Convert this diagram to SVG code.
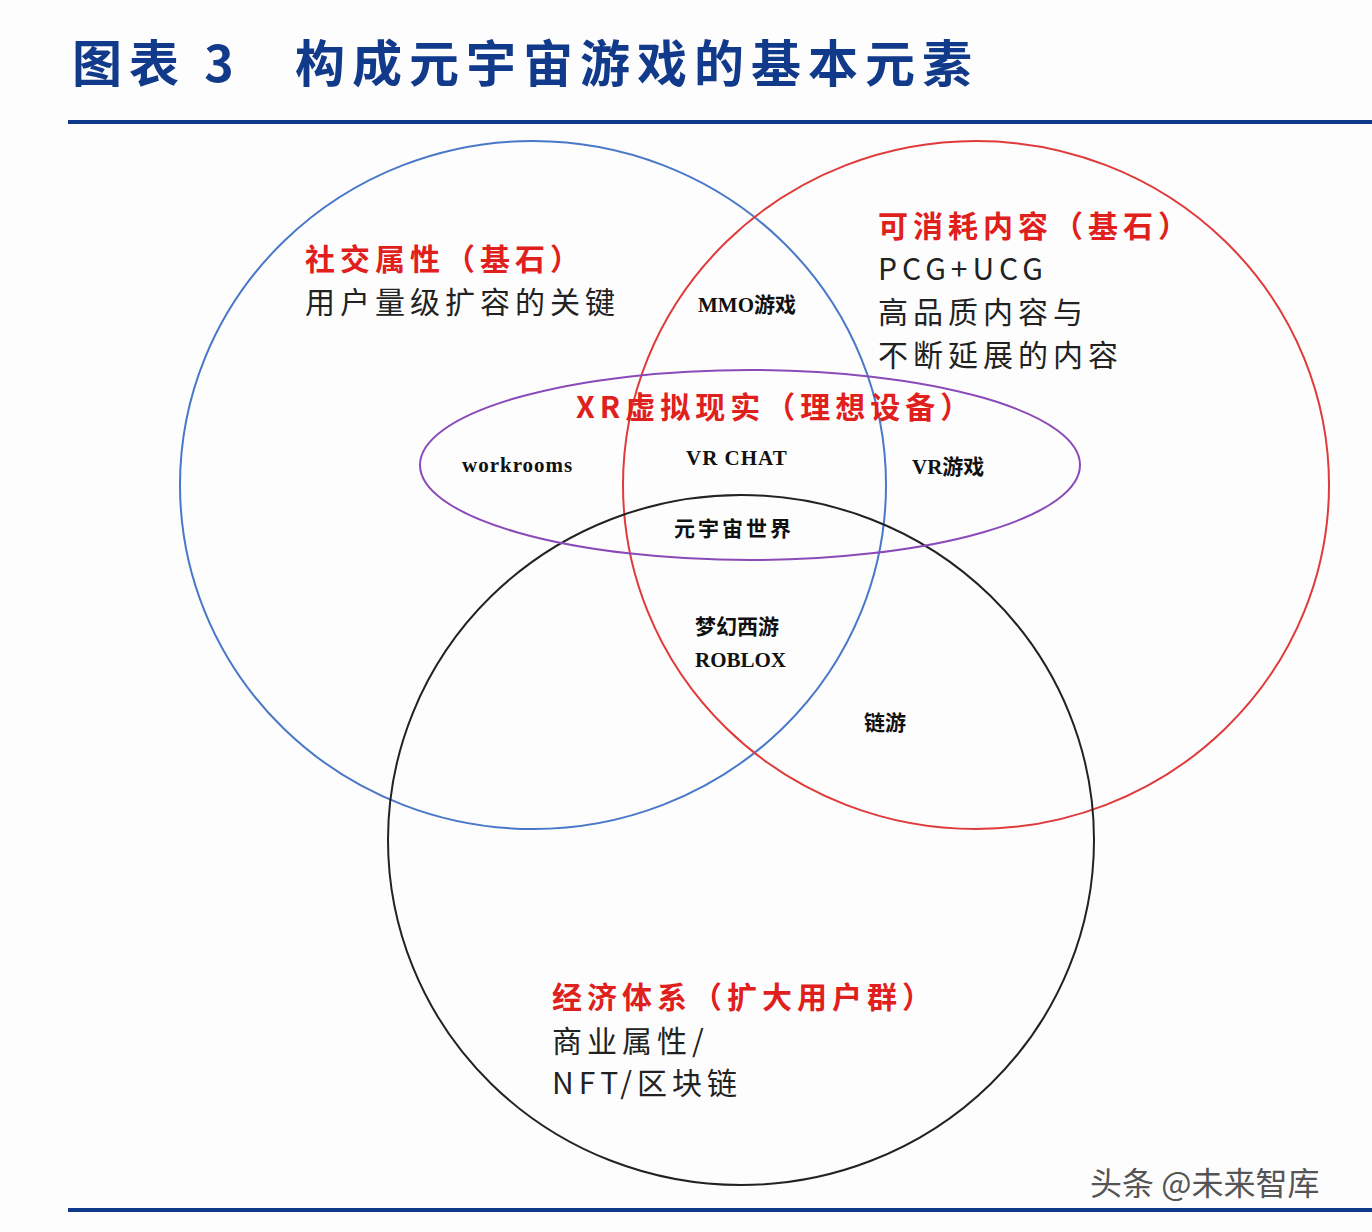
<svg xmlns="http://www.w3.org/2000/svg" width="1372" height="1232" viewBox="0 0 1372 1232">
<style>
.c{fill:none;stroke-width:2}
.r{font-family:"Noto Sans CJK SC",serif;font-weight:bold;fill:#e0201c;font-size:30px;letter-spacing:5px}
.k{font-family:"Noto Sans CJK SC",serif;fill:#222;font-size:30px;letter-spacing:5px}
.s{font-family:"Liberation Serif","Noto Sans CJK SC",serif;font-weight:bold;fill:#111;font-size:21px}
</style>
<rect width="1372" height="1232" fill="#fdfdfd"/>
<text x="72" y="82" font-family="Noto Sans CJK SC,serif" font-weight="bold" font-size="50" fill="#123a8a" letter-spacing="7">图表 3 <tspan x="295">构成元宇宙游戏的基本元素</tspan></text>
<rect x="68" y="120" width="1304" height="4" fill="#123a8a"/>
<rect x="68" y="1208" width="1304" height="4" fill="#123a8a"/>
<g id="connectors">
<ellipse id="social" class="c" cx="533" cy="485" rx="353" ry="344" stroke="#4a78c8"/>
<ellipse id="content" class="c" cx="976" cy="485" rx="353" ry="344" stroke="#e03a3a"/>
<ellipse id="economy" class="c" cx="741" cy="840" rx="353" ry="345" stroke="#222"/>
<ellipse id="xr" class="c" cx="750" cy="465" rx="330" ry="95" stroke="#8a4ab8"/>
</g>
<g id="labels">
<text class="r" x="305" y="270">社交属性（基石）</text>
<text class="k" x="305" y="313">用户量级扩容的关键</text>
<text class="r" x="878" y="237">可消耗内容（基石）</text>
<text class="k" x="878" y="280">PCG+UCG</text>
<text class="k" x="878" y="323">高品质内容与</text>
<text class="k" x="878" y="366">不断延展的内容</text>
<text class="r" x="576" y="418" letter-spacing="2">XR虚拟现实（理想设备）</text>
<text class="r" x="552" y="1008">经济体系（扩大用户群）</text>
<text class="k" x="552" y="1052">商业属性/</text>
<text class="k" x="552" y="1094">NFT/区块链</text>
<text class="s" x="698" y="312">MMO游戏</text>
<text class="s" x="462" y="472" letter-spacing="1">workrooms</text>
<text class="s" x="686" y="465" letter-spacing="1">VR CHAT</text>
<text class="s" x="912" y="474">VR游戏</text>
<text class="s" x="674" y="536" letter-spacing="3">元宇宙世界</text>
<text class="s" x="695" y="634">梦幻西游</text>
<text class="s" x="695" y="667">ROBLOX</text>
<text class="s" x="864" y="730">链游</text>
<text x="1090" y="1195" font-family="Noto Sans CJK SC,sans-serif" font-size="32" fill="#555">头条 @未来智库</text>
</g>
</svg>
